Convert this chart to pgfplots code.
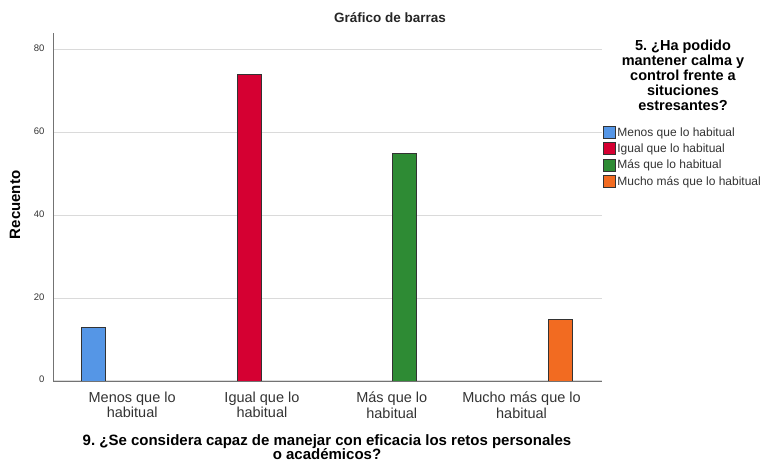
\documentclass[border=0pt]{standalone}
\usepackage{fontspec}
\setmainfont{Liberation Sans}
\usepackage{pgfplots}
\pgfplotsset{compat=1.18}
\definecolor{cMenos}{HTML}{5596E6}
\definecolor{cIgual}{HTML}{D50032}
\definecolor{cMas}{HTML}{2E8B34}
\definecolor{cMucho}{HTML}{F26B21}
\definecolor{cGrid}{HTML}{DADADA}
\definecolor{cText}{HTML}{333333}
\frenchspacing

\pgfplotsset{
  mybar/.style={ybar, bar width=0.185, draw=black!80, line width=0.6pt, fill=#1,
    legend image code/.code={\draw[fill=#1, draw=black!80, line width=0.6pt] (0pt,-5.5pt) rectangle (12pt,6.5pt);}},
}

\begin{document}
\begin{tikzpicture}[x=1pt,y=1pt]
\useasboundingbox (0,0) rectangle (768,462);
\begin{axis}[
  at={(53pt,81pt)}, anchor=south west,
  scale only axis, width=549pt, height=348pt,
  xmin=-0.61, xmax=3.62, ymin=0, ymax=84,
  axis x line*=bottom, axis y line*=left,
  axis line style={black!55, line width=0.8pt},
  xtick={0,1,2,3},
  xticklabels={{Menos que lo\\habitual},{Igual que lo\\habitual},{Más que lo\\habitual},{Mucho más que lo\\habitual}},
  typeset ticklabels with strut,
  xticklabel style={align=center, font=\fontsize{14.5}{14.5}\selectfont, text=cText, yshift=-7pt},
  ytick={0,20,40,60,80},
  yticklabel style={font=\fontsize{9.5}{10}\selectfont, text=cText, xshift=-5pt},
  /pgf/number format/assume math mode=true,
  major tick length=0pt,
  ymajorgrids, grid style={cGrid, line width=1pt},
  legend style={at={(axis description cs:1.002,0.733)}, anchor=north west,
    draw=none, fill=none, font=\fontsize{12}{13}\selectfont, text=cText,
    row sep=2.8pt, inner sep=0pt, nodes={inner sep=1.5pt}},
  legend cell align=left,
]
\addplot[mybar=cMenos, bar shift=-0.3] coordinates {(0,13)};
\addplot[mybar=cIgual, bar shift=-0.1] coordinates {(1,74)};
\addplot[mybar=cMas, bar shift=0.1] coordinates {(2,55)};
\addplot[mybar=cMucho, bar shift=0.3] coordinates {(3,15)};
\legend{Menos que lo habitual, Igual que lo habitual, Más que lo habitual, Mucho más que lo habitual}
\end{axis}
\node[font=\bfseries\fontsize{13.5}{15}\selectfont, text=black!85] at (390,444) {Gráfico de barras};
\node[rotate=90, font=\bfseries\fontsize{15}{17}\selectfont] at (15,257) {Recuento};
\node[anchor=north, inner sep=0pt, align=center, font=\bfseries\fontsize{14.5}{15}\selectfont] at (683,422)
  {5. ¿Ha podido\\mantener calma y\\control frente a\\situciones\\estresantes?};
\node[anchor=north, inner sep=0pt, align=center, font=\bfseries\fontsize{15}{14.5}\selectfont] at (327,28)
  {9. ¿Se considera capaz de manejar con eficacia los retos personales\\o académicos?};
\end{tikzpicture}
\end{document}
